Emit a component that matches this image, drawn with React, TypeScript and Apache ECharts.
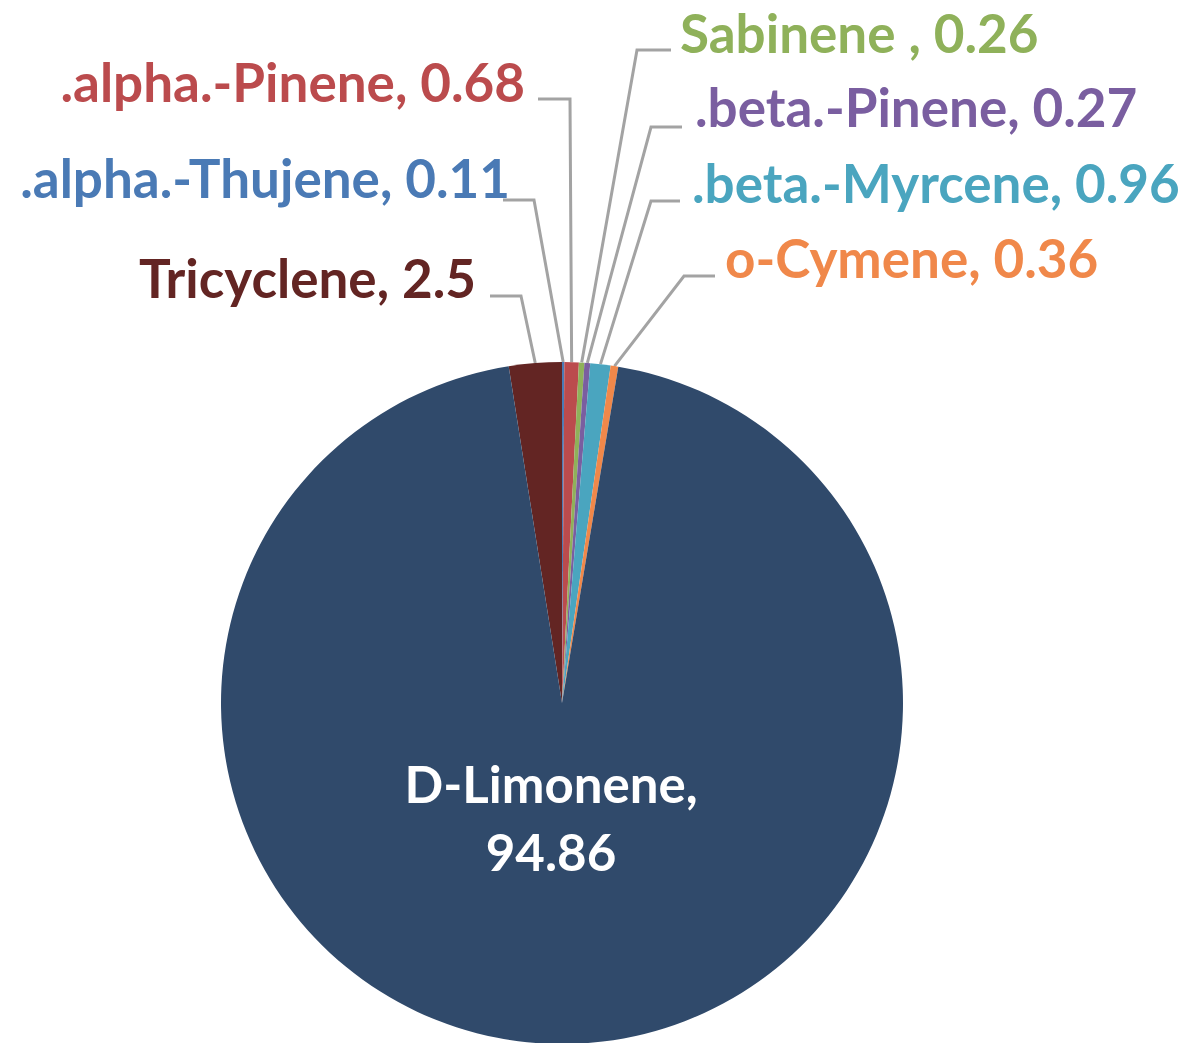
import React, { useEffect, useRef } from "react";
import * as echarts from "echarts";

const names = ["Tricyclene", ".alpha.-Thujene", ".alpha.-Pinene", "Sabinene ", ".beta.-Pinene", ".beta.-Myrcene", "o-Cymene", "D-Limonene"];
const values = [2.5, 0.11, 0.68, 0.26, 0.27, 0.96, 0.36, 94.86];
const colors = ["#632523", "#4A7AB5", "#BB4B4D", "#8FB15A", "#7A5EA0", "#4AA5BF", "#F0884A", "#304A6B"];

// label layout: [textX, textY, align, elbowX, lineY, endX]
const labelSpots: any[] = [
  [476, 277, "right", 521, 296, 490],
  [510, 177, "right", 534, 200, 503],
  [525, 81, "right", 570, 99, 538],
  [680, 32, "left", 637, 50, 671],
  [695, 106, "left", 651, 127, 682],
  [692, 182, "left", 651, 201, 680],
  [725, 257, "left", 684, 276, 715],
  [551, 817, "center", 0, 0, 0],
];

const FONT = "Lato";
const FS = 53;

export default function App() {
  const ref = useRef<HTMLDivElement>(null);
  useEffect(() => {
    if (!ref.current) return;
    const chart = echarts.init(ref.current, null, { renderer: "svg" });
    const total = values.reduce((a, b) => a + b, 0);
    const data = names.map((n, i) => {
      const inside = i === names.length - 1;
      return {
        name: n,
        value: values[i],
        itemStyle: { color: colors[i] },
        label: inside
          ? {
              position: "inside",
              color: "#ffffff",
              formatter: "{b},\n{c}",
              lineHeight: 68,
              fontSize: 51,
            }
          : { color: colors[i] },
        labelLine: { show: !inside },
      };
    });
    chart.setOption({
      animation: false,
      backgroundColor: "#ffffff",
      series: [
        {
          type: "pie",
          center: [562, 703],
          radius: 341,
          startAngle: 90 + (values[0] / total) * 360,
          clockwise: true,
          avoidLabelOverlap: false,
          minAngle: 0,
          label: {
            show: true,
            position: "outside",
            formatter: "{b}, {c}",
            fontFamily: FONT,
            fontWeight: "bold",
            fontSize: FS,
          },
          labelLine: {
            show: true,
            length: 20,
            length2: 20,
            lineStyle: { color: "#A3A3A3", width: 3 },
          },
          labelLayout: (params: any) => {
            const s = labelSpots[params.dataIndex];
            if (!s) return {};
            const [x, y, align, ex, ly, endX] = s;
            const out: any = { x, y, align, verticalAlign: "middle" };
            const pts = params.labelLinePoints;
            if (pts && pts[0] && align !== "center") {
              out.labelLinePoints = [pts[0], [ex, ly], [endX, ly]];
            }
            return out;
          },
          data,
        },
      ],
    });
    return () => chart.dispose();
  }, []);
  return (
    <div
      ref={ref}
      style={{ position: "absolute", left: 0, top: 0, width: 1186, height: 1043 }}
    />
  );
}
